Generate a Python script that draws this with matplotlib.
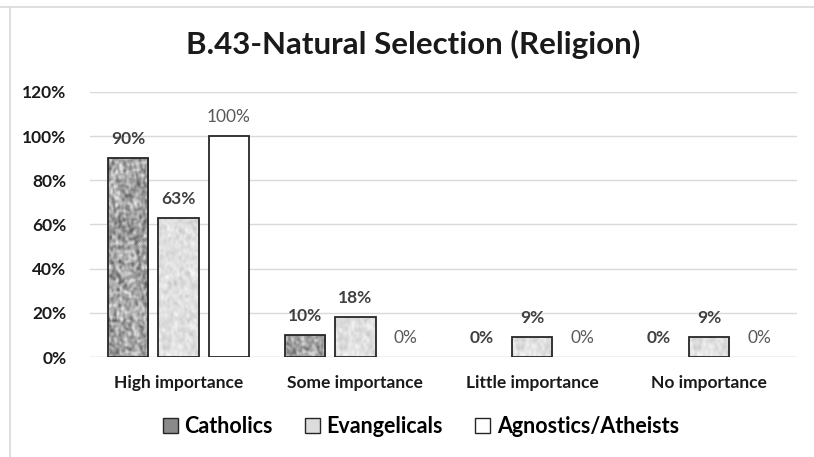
import numpy as np
import matplotlib.pyplot as plt
from matplotlib.patches import Patch
from matplotlib.lines import Line2D

categories = ["High importance", "Some importance", "Little importance", "No importance"]
catholics = [90, 10, 0, 0]
evangelicals = [63, 18, 9, 9]
agnostics = [100, 0, 0, 0]
series_names = ["Catholics", "Evangelicals", "Agnostics/Atheists"]

plt.rcParams['font.family'] = ['Lato', 'DejaVu Sans']

# texture images for the patterned bars (purely decorative)
rng = np.random.default_rng(7)


def blur(a, n):
    out = a.copy()
    for _ in range(n):
        out = (out + np.roll(out, 1, 0) + np.roll(out, -1, 0) +
               np.roll(out, 1, 1) + np.roll(out, -1, 1)) / 5
    return out


granite = blur(rng.random((200, 40)), 2)
granite = (granite - granite.min()) / (granite.max() - granite.min())
granite = 0.3 + 0.65 * granite

marble = blur(rng.random((300, 60)), 6)
marble = (marble - marble.min()) / (marble.max() - marble.min())
marble = 0.76 + 0.22 * marble

fig = plt.figure(figsize=(8.14, 4.57), dpi=100)
ax = fig.add_axes([0.1106, 0.2188, 0.869, 0.58])

x = np.arange(len(categories))
w = 0.23
step = 0.285

bars_c = ax.bar(x - step, [v / 100 for v in catholics], w, color="none",
                edgecolor="#262626", linewidth=1.3, zorder=3)
bars_e = ax.bar(x, [v / 100 for v in evangelicals], w, color="none",
                edgecolor="#262626", linewidth=1.3, zorder=3)
bars_a = ax.bar(x + step, [v / 100 for v in agnostics], w, color="white",
                edgecolor="#262626", linewidth=1.3, zorder=3)

for bars in (bars_c, bars_e, bars_a):
    for b in bars:
        if b.get_height() <= 0:
            b.set_visible(False)

for bars, tex in [(bars_c, granite), (bars_e, marble)]:
    for b in bars:
        if b.get_height() <= 0:
            continue
        x0 = b.get_x()
        im = ax.imshow(tex, cmap="gray", vmin=0, vmax=1, aspect="auto",
                       extent=[x0, x0 + b.get_width(), 0, 1.2], zorder=2,
                       interpolation="bilinear")
        im.set_clip_path(b)

for bars, vals, bold, col in [(bars_c, catholics, True, "#404040"),
                              (bars_e, evangelicals, True, "#404040"),
                              (bars_a, agnostics, False, "#595959")]:
    for b, v in zip(bars, vals):
        ax.annotate(f"{v}%", (b.get_x() + b.get_width() / 2, b.get_height()),
                    xytext=(0, 8), textcoords="offset points",
                    ha="center", va="bottom", fontsize=12.5,
                    fontweight="bold" if bold else "normal", color=col)

ax.set_xlim(-0.5, 3.5)
ax.set_ylim(0, 1.2)
ticks = np.arange(0, 1.21, 0.2)
ax.set_yticks(ticks)
ax.set_yticklabels([f"{int(round(t * 100))}%" for t in ticks],
                   fontsize=12.5, fontweight="bold", color="#1a1a1a")
ax.set_xticks(x)
ax.set_xticklabels(categories, fontsize=12.5, fontweight="bold", color="#1a1a1a")
ax.tick_params(axis="both", length=0)
ax.tick_params(axis="y", pad=17)
ax.tick_params(axis="x", pad=13)
ax.grid(axis="y", color="#d9d9d9", linewidth=1, zorder=0)
for s in ax.spines.values():
    s.set_visible(False)
ax.axhline(0, color="#d9d9d9", linewidth=1, zorder=1)

fig.suptitle("B.43-Natural Selection (Religion)", x=0.508, y=0.935,
             fontsize=22.5, fontweight="bold", color="#1a1a1a")

handles = [Patch(facecolor="#8a8a8a", edgecolor="#262626"),
           Patch(facecolor="#dcdcdc", edgecolor="#262626"),
           Patch(facecolor="white", edgecolor="#262626")]
fig.legend(handles, series_names, loc="center", bbox_to_anchor=(0.517, 0.066),
           ncol=3, frameon=False, prop={"size": 15.5, "weight": "bold"},
           handlelength=0.7, handleheight=0.7, handletextpad=0.3,
           columnspacing=1.5)

# chart frame edges visible in the crop
fig.add_artist(Line2D([0, 1], [1 - 7 / 457, 1 - 7 / 457], color="#d9d9d9", lw=1.2))
fig.add_artist(Line2D([10 / 814, 10 / 814], [0, 1 - 7 / 457], color="#d9d9d9", lw=1.2))

fig.savefig("out.png", dpi=100)
